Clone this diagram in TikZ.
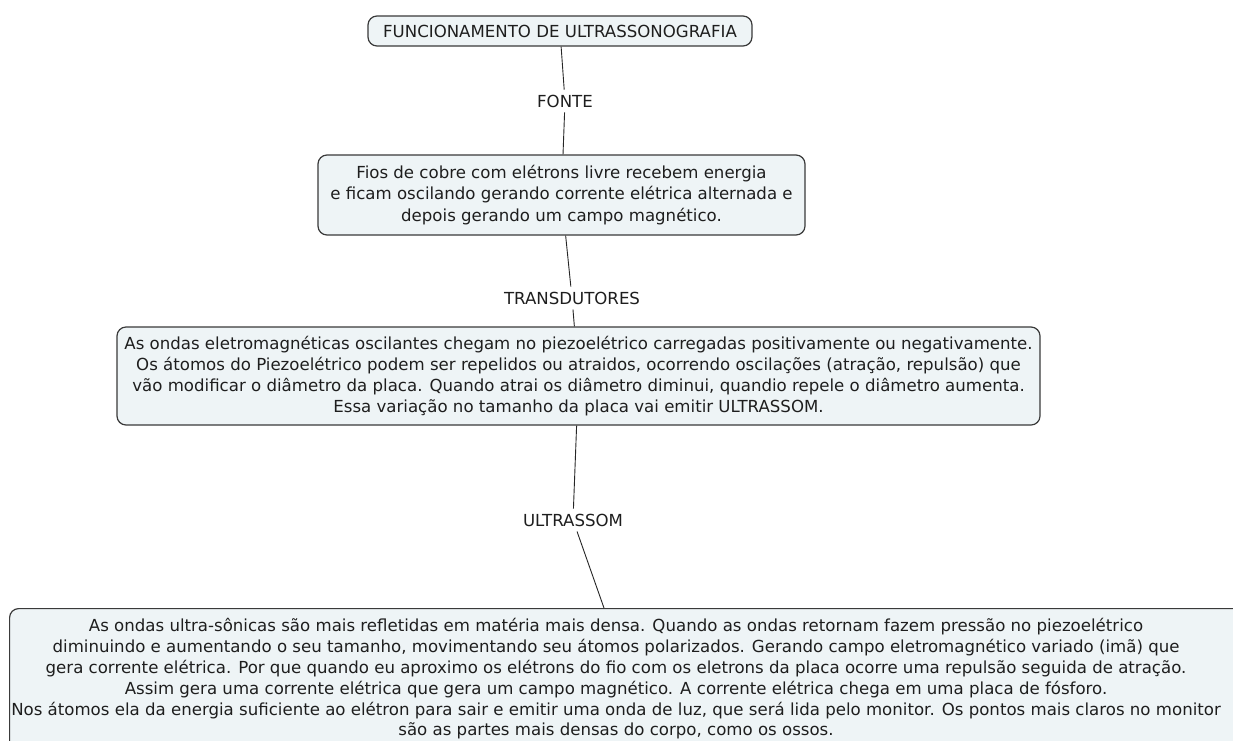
\documentclass[tikz,border=0pt]{standalone}
\usepackage{fontspec}
\setmainfont{DejaVu Sans}
\definecolor{boxfill}{HTML}{EEF4F6}
\definecolor{boxline}{HTML}{3A3A3A}
\definecolor{txt}{HTML}{1E1E1E}
\newcommand\myfs{\fontsize{16.6}{21.2}\selectfont}
\newcommand\myfsb{\fontsize{16.6}{20.8}\selectfont}
\begin{document}
\begin{tikzpicture}[x=1pt,y=-1pt,
  box/.style={draw=boxline, fill=boxfill, line width=1.2pt, rounded corners=9pt, align=center, inner sep=0pt, font=\myfs, text=txt},
  boxtext/.style={align=center, inner sep=0pt, font=\myfsb, text=txt},
  lbl/.style={inner sep=5pt, font=\myfs, text=txt},
  link/.style={draw=black!85, line width=0.9pt}]
\useasboundingbox[fill=white] (0,0) rectangle (1233,740);
\node[box, minimum width=384pt, minimum height=30pt] (title) at (560,31) {FUNCIONAMENTO DE ULTRASSONOGRAFIA};
\node[lbl] (fonte) at (565,101) {FONTE};
\node[box, minimum width=487pt, minimum height=80pt] (fios) at (561.5,195) {Fios de cobre com elétrons livre recebem energia\\ e ficam oscilando gerando corrente elétrica alternada e\\ depois gerando um campo magnético.};
\node[lbl] (trans) at (572,298) {TRANSDUTORES};
\node[box, minimum width=923pt, minimum height=98pt] (ondas) at (578.5,376) {As ondas eletromagnéticas oscilantes chegam no piezoelétrico carregadas positivamente ou negativamente.\\ Os átomos do Piezoelétrico podem ser repelidos ou atraidos, ocorrendo oscilações (atração, repulsão) que\\ vão modificar o diâmetro da placa. Quando atrai os diâmetro diminui, quandio repele o diâmetro aumenta.\\ Essa variação no tamanho da placa vai emitir ULTRASSOM.};
\node[lbl] (ultra) at (573,520) {ULTRASSOM};
\node[box, minimum width=1260pt, minimum height=160pt, anchor=north west] (ultrabox) at (9,608) {};
\node[boxtext] (ultratext) at (616,679) {As ondas ultra-sônicas são mais refletidas em matéria mais densa. Quando as ondas retornam fazem pressão no piezoelétrico\\ diminuindo e aumentando o seu tamanho, movimentando seu átomos polarizados. Gerando campo eletromagnético variado (imã) que\\ gera corrente elétrica. Por que quando eu aproximo os elétrons do fio com os eletrons da placa ocorre uma repulsão seguida de atração.\\ Assim gera uma corrente elétrica que gera um campo magnético. A corrente elétrica chega em uma placa de fósforo.\\ Nos átomos ela da energia suficiente ao elétron para sair e emitir uma onda de luz, que será lida pelo monitor. Os pontos mais claros no monitor\\ são as partes mais densas do corpo, como os ossos.};
\coordinate (ultratop) at (604,608);
\draw[link] (title) -- (fonte);
\draw[link] (fonte) -- (fios);
\draw[link] (fios) -- (trans);
\draw[link] (trans) -- (ondas);
\draw[link] (ondas) -- (ultra);
\draw[link] (ultra) -- (ultratop);
\end{tikzpicture}
\end{document}
